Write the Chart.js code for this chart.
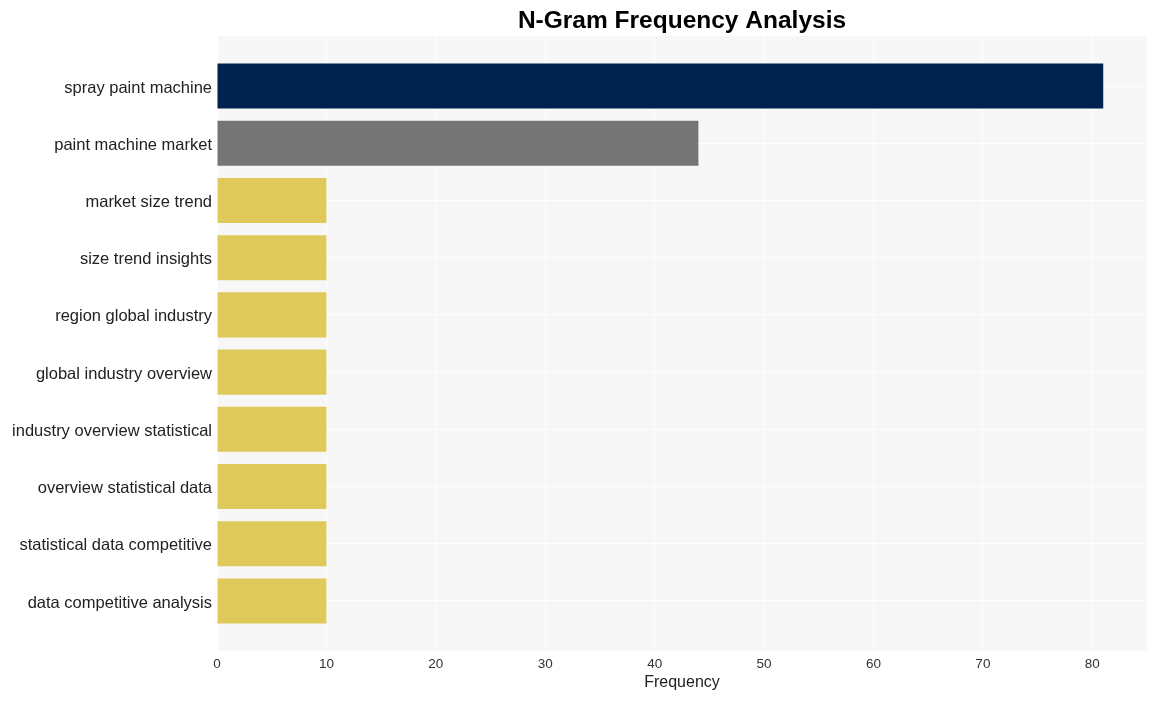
<!DOCTYPE html>
<html>
<head>
<meta charset="utf-8">
<script src="https://cdn.jsdelivr.net/npm/chart.js@4/dist/chart.umd.min.js"></script>
<style>
html,body{margin:0;padding:0;background:#fff;}
#wrap{width:1156px;height:701px;position:relative;}
</style>
</head>
<body>
<div id="wrap"><canvas id="c" width="1156" height="701"></canvas></div>
<script>
const categories = ["spray paint machine","paint machine market","market size trend","size trend insights","region global industry","global industry overview","industry overview statistical","overview statistical data","statistical data competitive","data competitive analysis"];
const frequencies = [81,44,10,10,10,10,10,10,10,10];
const barColors = ["#00224e","#757575","#dfc95a","#dfc95a","#dfc95a","#dfc95a","#dfc95a","#dfc95a","#dfc95a","#dfc95a"];
const xTicks = [0,10,20,30,40,50,60,70,80];

const FONT = '"Liberation Sans", Arial, Helvetica, sans-serif';

const bgPlugin = {
  id:'bg',
  beforeDraw(chart){
    const {ctx, chartArea:a} = chart;
    ctx.save();
    ctx.fillStyle = '#f7f7f7';
    ctx.fillRect(a.left, a.top, a.right-a.left, a.bottom-a.top);
    ctx.restore();
  }
};

const points = categories.map((c,i)=>({x:frequencies[i], y:i}));

new Chart(document.getElementById('c'), {
  type:'bar',
  data:{datasets:[{data:points, backgroundColor:barColors, borderWidth:0,
    categoryPercentage:0.875, barPercentage:0.9}]},
  plugins:[bgPlugin],
  options:{
    indexAxis:'y',
    responsive:false,
    animation:false,
    layout:{padding:{top:0,right:9,bottom:0,left:0}},
    plugins:{
      legend:{display:false},
      tooltip:{enabled:false},
      title:{display:true, text:'N-Gram Frequency Analysis', fullSize:false,
        font:{family:FONT, size:24.5, weight:'bold'},
        color:'#000', padding:{top:6.3,bottom:0.3}}
    },
    scales:{
      x:{
        type:'linear',
        min:0, max:85,
        afterBuildTicks(s){ s.ticks = xTicks.map(v=>({value:v})); },
        afterFit(s){ s.height = 50; },
        grid:{color:'#ffffff', lineWidth:1, drawTicks:false},
        border:{display:false},
        ticks:{padding:5, color:'#333', font:{family:FONT, size:13.5}},
        title:{display:true, text:'Frequency', color:'#222', padding:{top:2,bottom:8.4},
          font:{family:FONT, size:16}}
      },
      y:{
        type:'linear',
        reverse:true,
        offset:false,
        min:-0.874, max:9.874,
        afterBuildTicks(s){ s.ticks = categories.map((c,i)=>({value:i})); },
        afterFit(s){ s.width = 217; },
        grid:{color:'#ffffff', lineWidth:1, drawTicks:false, offset:false},
        border:{display:false},
        ticks:{padding:5, labelOffset:2, color:'#222', font:{family:FONT, size:16.5},
          callback:(v)=>categories[v]}
      }
    }
  }
});
</script>
</body>
</html>
